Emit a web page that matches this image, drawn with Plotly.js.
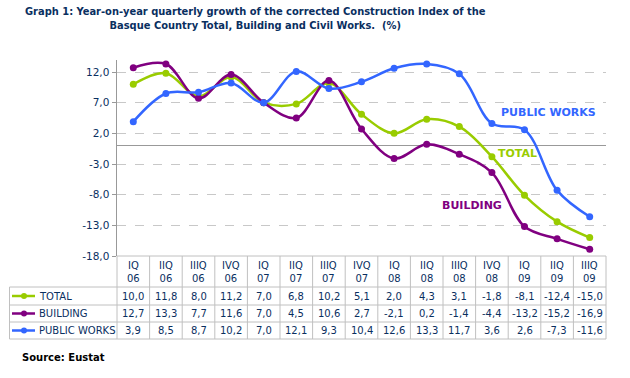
<!DOCTYPE html>
<html><head><meta charset="utf-8">
<script src="https://cdn.plot.ly/plotly-3.0.1.min.js"></script>
<style>body{margin:0;background:#fff}</style>
</head><body><div id="chart" style="width:630px;height:378px"></div>
<script>
const quarters = ['IQ','IIQ','IIIQ','IVQ','IQ','IIQ','IIIQ','IVQ','IQ','IIQ','IIIQ','IVQ','IQ','IIQ','IIIQ'];
const years = ['06','06','06','06','07','07','07','07','08','08','08','08','09','09','09'];
const total = [10.0,11.8,8.0,11.2,7.0,6.8,10.2,5.1,2.0,4.3,3.1,-1.8,-8.1,-12.4,-15.0];
const building = [12.7,13.3,7.7,11.6,7.0,4.5,10.6,2.7,-2.1,0.2,-1.4,-4.4,-13.2,-15.2,-16.9];
const publicWorks = [3.9,8.5,8.7,10.2,7.0,12.1,9.3,10.4,12.6,13.3,11.7,3.6,2.6,-7.3,-11.6];
const seriesNames = ['TOTAL','BUILDING','PUBLIC WORKS'];
const yTicks = [12,7,2,-3,-8,-13,-18];

const colors = ['#99cc00','#800080','#3366ff'];
const seriesData = [total, building, publicWorks];
const navy = '#0a2f5f';
const font = 'DejaVu Sans, Verdana, sans-serif';
const fmt = v => v.toFixed(1).replace('.', ',');

// pixel helpers (plot area: x 117..606, y 60..256)
const PL = 117, PR = 606, PT = 60, PB = 256;
const px = p => (p - PL) / (PR - PL);
const py = p => (PB - p) / (PB - PT);

const idx = quarters.map((q, i) => i);
const traces = seriesData.map((d, s) => ({
  x: idx, y: d, type: 'scatter', mode: 'lines+markers', name: seriesNames[s],
  line: {color: colors[s], width: 2.5, shape: 'spline', smoothing: 1},
  marker: {color: colors[s], size: 7, symbol: 'circle'},
  cliponaxis: false, hoverinfo: 'skip'
}));

const annotations = [];
const shapes = [];
const n = quarters.length;
// header labels
quarters.forEach((q, i) => {
  annotations.push({x: i, y: py(272), xref: 'x', yref: 'paper', text: q + '<br>' + years[i],
    showarrow: false, font: {family: font, size: 10, color: navy}, xanchor: 'center', yanchor: 'middle'});
});
const rowCenters = [296, 313.5, 330.5];
seriesData.forEach((d, s) => {
  d.forEach((v, i) => {
    annotations.push({x: i, y: py(rowCenters[s]), xref: 'x', yref: 'paper', text: fmt(v),
      showarrow: false, font: {family: font, size: 10, color: navy}, xanchor: 'center', yanchor: 'middle'});
  });
  annotations.push({x: px(37), y: py(rowCenters[s]), xref: 'paper', yref: 'paper', text: seriesNames[s],
    showarrow: false, font: {family: font, size: 10, color: navy}, xanchor: 'left', yanchor: 'middle'});
  shapes.push({type: 'line', xref: 'paper', yref: 'paper', x0: px(12), x1: px(35),
    y0: py(rowCenters[s]), y1: py(rowCenters[s]), line: {color: colors[s], width: 2.5}});
  shapes.push({type: 'circle', xref: 'paper', yref: 'paper', x0: px(21), x1: px(27),
    y0: py(rowCenters[s] - 3), y1: py(rowCenters[s] + 3), fillcolor: colors[s], line: {color: colors[s], width: 0}});
});
// table grid
const gridC = '#c0c0c0';
const L = 9.5;
shapes.push({type: 'line', xref: 'paper', yref: 'paper', x0: 0, x1: 1, y0: py(256), y1: py(256), line: {color: gridC, width: 1}});
[287, 305, 322, 339].forEach(r => shapes.push({type: 'line', xref: 'paper', yref: 'paper',
  x0: px(L), x1: 1, y0: py(r), y1: py(r), line: {color: gridC, width: 1}}));
for (let k = 0; k <= n; k++) {
  shapes.push({type: 'line', xref: 'paper', yref: 'paper', x0: k / n, x1: k / n,
    y0: py(256), y1: py(339), line: {color: gridC, width: 1}});
}
shapes.push({type: 'line', xref: 'paper', yref: 'paper', x0: px(L), x1: px(L),
  y0: py(287), y1: py(339), line: {color: gridC, width: 1}});

// series labels in chart
annotations.push({x: px(548), y: py(112), xref: 'paper', yref: 'paper', text: '<b>PUBLIC WORKS</b>', showarrow: false,
  font: {family: font, size: 11, color: colors[2]}, xanchor: 'center', yanchor: 'middle'});
annotations.push({x: px(517), y: py(153), xref: 'paper', yref: 'paper', text: '<b>TOTAL</b>', showarrow: false,
  font: {family: font, size: 11, color: colors[0]}, xanchor: 'center', yanchor: 'middle'});
annotations.push({x: px(472), y: py(205), xref: 'paper', yref: 'paper', text: '<b>BUILDING</b>', showarrow: false,
  font: {family: font, size: 11, color: colors[1]}, xanchor: 'center', yanchor: 'middle'});
// source
annotations.push({x: px(20), y: py(357), xref: 'paper', yref: 'paper', text: '<b>Source: Eustat</b>', showarrow: false,
  font: {family: font, size: 10, color: '#000'}, xanchor: 'left', yanchor: 'middle'});
// title
annotations.push({x: px(255), y: py(3), xref: 'paper', yref: 'paper',
  text: '<b>Graph 1: Year-on-year quarterly growth of the corrected Construction Index of the<br>Basque Country Total, Building and Civil Works.  (%)</b>',
  showarrow: false, align: 'center', xanchor: 'center', yanchor: 'top',
  font: {family: 'DejaVu Sans Condensed, DejaVu Sans, sans-serif', size: 11, color: navy}});

const layout = {
  width: 630, height: 378,
  margin: {l: PL, r: 630 - PR, t: PT, b: 378 - PB},
  paper_bgcolor: '#fff', plot_bgcolor: '#fff',
  showlegend: false,
  xaxis: {range: [-0.5, n - 0.5], showticklabels: false, showgrid: false, zeroline: false, showline: false, fixedrange: true},
  yaxis: {range: [-18, 12 + (72 - PT) / ((PB - 72) / 30)], tickvals: yTicks, ticktext: yTicks.map(fmt),
    showgrid: true, gridcolor: '#c8c8c8', griddash: 'dash', gridwidth: 1,
    zeroline: true, zerolinecolor: '#999', zerolinewidth: 1,
    showline: true, linecolor: '#999', linewidth: 1.5, ticks: 'outside', ticklen: 4, tickcolor: '#999',
    tickfont: {family: font, size: 10.5, color: navy}, fixedrange: true},
  shapes: shapes, annotations: annotations
};
Plotly.newPlot('chart', traces, layout, {displayModeBar: false, staticPlot: true});
</script></body></html>
